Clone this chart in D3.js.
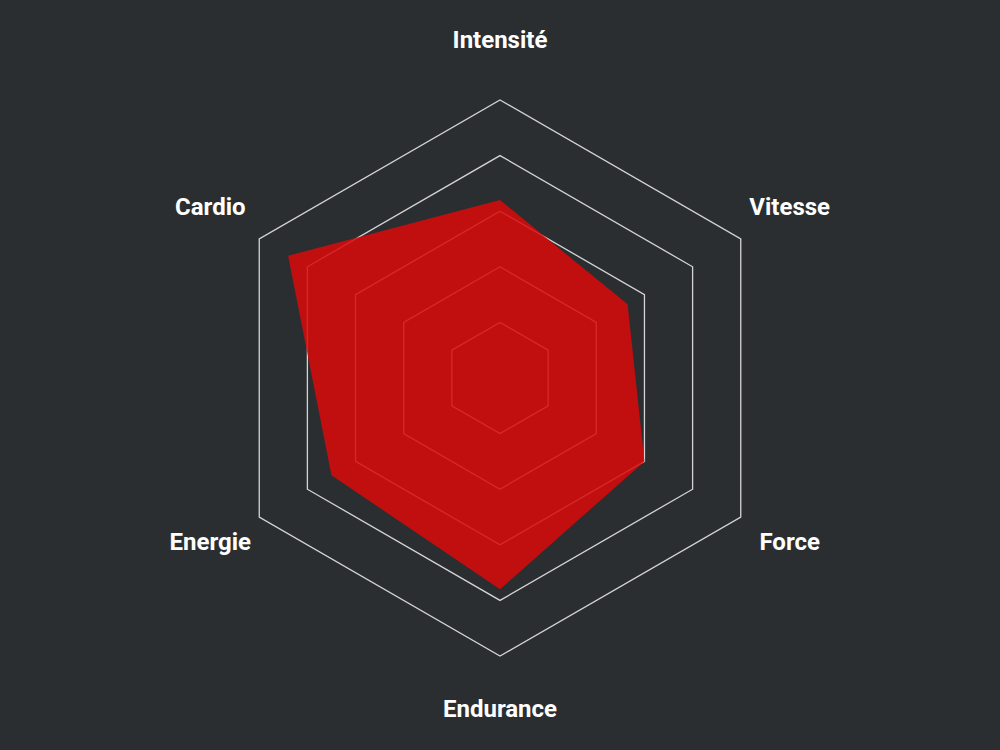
<!DOCTYPE html>
<html><head><meta charset="utf-8">
<script src="https://cdn.jsdelivr.net/npm/d3@7"></script>
<style>html,body{margin:0;padding:0;background:#2a2e31;}</style>
</head><body>
<svg id="c" width="1000" height="750"></svg>
<script>
const categories = ["Intensité","Vitesse","Force","Endurance","Energie","Cardio"];
const values = [64, 53, 60, 76, 70, 88];
const levels = [20, 40, 60, 80, 100];
const maxValue = 100;

const svg = d3.select("#c");
const cx = 500, cy = 378, R = 278, labelR = 334.5, labelCy = 374.5;
svg.append("rect").attr("width",1000).attr("height",750).attr("fill","#2a2e31");
const r = d3.scaleLinear().domain([0, maxValue]).range([0, R]);
const angle = i => (Math.PI*2/categories.length)*i;
const g = svg.append("g").attr("transform",`translate(${cx},${cy})`);
const line = d3.lineRadial().angle((d,i)=>angle(i)).radius(d=>r(d)).curve(d3.curveLinearClosed);

g.selectAll(".grid").data(levels).join("path")
  .attr("d", l => line(categories.map(()=>l)))
  .attr("fill","none").attr("stroke","#d4d4d4").attr("stroke-width",1.3);

g.append("path").attr("d", line(values))
  .attr("fill","rgb(218,10,10)").attr("fill-opacity",0.86);

svg.append("g").attr("transform",`translate(${cx},${labelCy})`)
  .selectAll(".lbl").data(categories).join("text")
  .attr("x",(d,i)=>labelR*Math.sin(angle(i)))
  .attr("y",(d,i)=>-labelR*Math.cos(angle(i)))
  .attr("text-anchor","middle").attr("dominant-baseline","central")
  .attr("fill","#ffffff").attr("font-family","Roboto").attr("font-weight","bold")
  .attr("font-size",24).text(d=>d);
</script>
</body></html>
